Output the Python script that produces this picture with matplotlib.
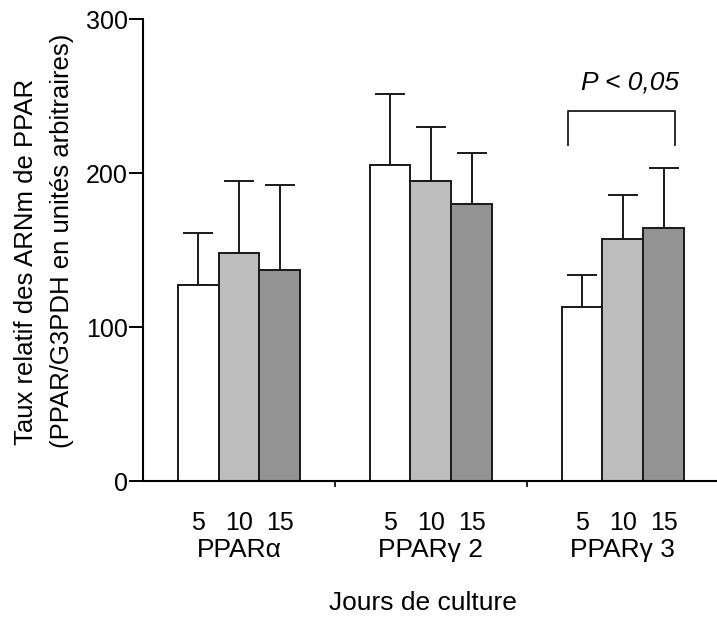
import numpy as np
import matplotlib.pyplot as plt

plt.rcParams['font.family'] = ['Liberation Sans', 'DejaVu Sans']

# Relative PPAR mRNA levels (PPAR/G3PDH) after 5, 10 and 15 days of culture
groups = ['PPAR\u03b1', 'PPAR\u03b3 2', 'PPAR\u03b3 3']
days = ['5', '10', '15']
means = {
    '5':  [127, 205, 113],
    '10': [148, 195, 157],
    '15': [137, 180, 164],
}
errors = {
    '5':  [34, 46, 21],
    '10': [47, 35, 29],
    '15': [55, 33, 39],
}
colors = {'5': 'white', '10': '#bdbdbd', '15': '#939393'}

fig = plt.figure(figsize=(7.17, 6.17), dpi=100)
ax = fig.add_axes([0.1994, 0.2204, 0.8006, 0.7488])

x = np.arange(len(groups))
width = 0.213
for i, d in enumerate(days):
    pos = x + (i - 1) * width
    ax.bar(pos, means[d], width, color=colors[d], edgecolor='#1a1a1a',
           linewidth=1.4, zorder=2)
    ax.errorbar(pos, means[d], yerr=[np.zeros(3), errors[d]], fmt='none',
                ecolor='#1a1a1a', elinewidth=1.4, capsize=11, capthick=1.4,
                zorder=1)
    for xp in pos:
        ax.text(xp, -27, d, ha='center', va='center', fontsize=18)

for xc, g in zip(x, groups):
    ax.text(xc, -44.5, g, ha='center', va='center', fontsize=19)

# significance bracket between day 5 and day 15 of PPARg3
x0 = x[2] - width - 0.075
x1 = x[2] + width + 0.057
ax.plot([x0, x0, x1, x1], [218, 240, 240, 218], color='#1a1a1a', lw=1.3)
ax.text(x[2] + 0.035, 259, 'P < 0,05', ha='center', va='center',
        fontsize=19, style='italic')

ax.set_xlim(-0.5, 2.49)
ax.set_ylim(0, 300)
ax.set_yticks([0, 100, 200, 300])
ax.tick_params(axis='y', labelsize=18, length=10, width=1.4, pad=1)
ax.set_xticks([0.5, 1.5])
ax.set_xticklabels([])
ax.tick_params(axis='x', length=4, width=1.2)

for side in ['top', 'right']:
    ax.spines[side].set_visible(False)
ax.spines['left'].set_linewidth(1.5)
ax.spines['bottom'].set_linewidth(1.5)

# two-line y label, both lines starting at the same height
fig.text(0.036, 0.278, 'Taux relatif des ARNm de PPAR', rotation=90,
         ha='center', va='bottom', fontsize=18.5)
fig.text(0.086, 0.274, '(PPAR/G3PDH en unit\u00e9s arbitraires)', rotation=90,
         ha='center', va='bottom', fontsize=18.5)
fig.text(0.59, 0.023, 'Jours de culture', ha='center', va='center', fontsize=19)

fig.savefig('out.png', dpi=100)
